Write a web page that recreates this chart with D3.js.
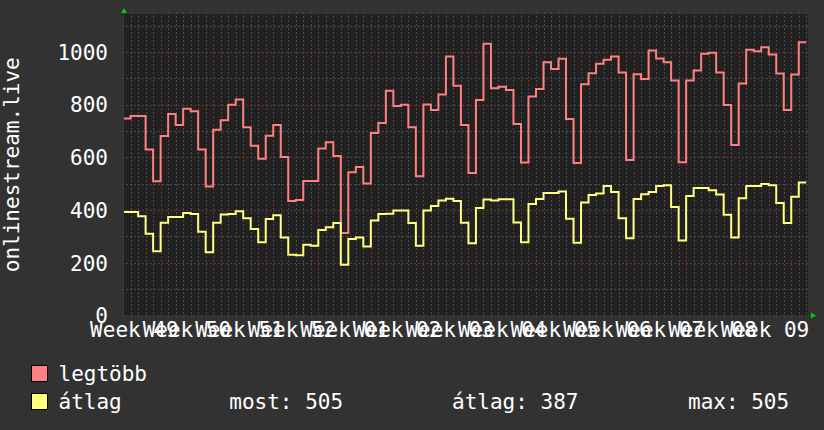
<!DOCTYPE html>
<html>
<head>
<meta charset="utf-8">
<script src="https://cdn.jsdelivr.net/npm/d3@7"></script>
<style>
  html, body { margin: 0; padding: 0; background: #323232; }
  svg { display: block; }
  text { font-family: "DejaVu Sans Mono", monospace; fill: #ffffff; }
</style>
</head>
<body>
<div id="chart"></div>
<script>
// ---- data (one value per day; first entry is the partial day at the left edge) ----
const legtobb = [748,757,757,630,510,681,765,723,785,775,630,490,705,741,800,820,715,644,595,682,
  723,602,435,438,511,511,634,658,605,313,544,564,501,693,731,853,795,800,715,529,
  801,780,839,983,872,723,541,818,1032,863,868,856,727,581,831,860,961,936,975,746,
  579,878,920,956,971,983,922,590,916,898,1006,976,961,892,582,892,930,994,997,922,
  799,647,881,1009,1003,1018,991,919,780,915,1037];
const atlag = [393,393,377,310,244,352,374,374,389,385,318,240,352,383,385,396,369,328,278,366,
  381,296,231,229,269,265,325,335,351,193,290,296,262,361,385,386,399,399,351,265,
  399,416,437,443,435,352,274,408,440,437,441,441,353,278,423,442,465,465,471,367,
  276,429,457,463,492,469,369,293,442,460,469,492,494,412,285,454,484,484,475,459,
  382,296,445,492,492,499,494,427,351,451,505];
const weekLabels = ["Week 49","Week 50","Week 51","Week 52","Week 01","Week 02","Week 03",
  "Week 04","Week 05","Week 06","Week 07","Week 08","Week 09"];
const yTicks = [0,200,400,600,800,1000];
const seriesNames = ["legtöbb","átlag"];
const statLabels = ["most: 505","átlag: 387","max: 505"];

// ---- layout ----
const W = 824, H = 430;
const plot = {left: 124, right: 808, top: 14, bottom: 315.5};
const colors = {red: "#ff8080", yellow: "#ffff80"};

const svg = d3.select("#chart").append("svg").attr("width", W).attr("height", H);
svg.append("rect").attr("width", W).attr("height", H).attr("fill", "#323232");

// x: days, day 0 = first full day boundary
const x = d3.scaleLinear().domain([-0.879, 90.232]).range([plot.left, plot.right]);
const y = d3.scaleLinear().domain([0, 1144.5]).range([plot.bottom, plot.top]);

svg.append("rect").attr("x", plot.left).attr("y", plot.top)
  .attr("width", plot.right - plot.left).attr("height", plot.bottom - plot.top)
  .attr("fill", "#212121");

const grid = svg.append("g");
// minor vertical (daily)
const days = d3.range(0, 91);
const weekDays = d3.range(0, 13).map(k => 4 + 7 * k);
grid.selectAll(".vmin").data(days.filter(d => !weekDays.includes(d))).join("line")
  .attr("x1", d => Math.round(x(d)) + 0.5).attr("x2", d => Math.round(x(d)) + 0.5)
  .attr("y1", plot.top - 2).attr("y2", plot.bottom + 2)
  .attr("stroke", "#4c4c4c").attr("stroke-dasharray", "2,2");
// minor horizontal (every 100)
const hMinor = d3.range(100, 1144, 200);
grid.selectAll(".hmin").data(hMinor).join("line")
  .attr("x1", plot.left - 2).attr("x2", plot.right + 2)
  .attr("y1", d => Math.round(y(d)) + 0.5).attr("y2", d => Math.round(y(d)) + 0.5)
  .attr("stroke", "#4c4c4c").attr("stroke-dasharray", "2,2");
// major vertical (weeks)
grid.selectAll(".vmaj").data(weekDays).join("line")
  .attr("x1", d => Math.round(x(d)) + 0.5).attr("x2", d => Math.round(x(d)) + 0.5)
  .attr("y1", plot.top - 2).attr("y2", plot.bottom + 2)
  .attr("stroke", "#6b3434").attr("stroke-dasharray", "2,2");
// major horizontal
grid.selectAll(".hmaj").data(yTicks.filter(v => v > 0)).join("line")
  .attr("x1", plot.left - 2).attr("x2", plot.right + 2)
  .attr("y1", d => Math.round(y(d)) + 0.5).attr("y2", d => Math.round(y(d)) + 0.5)
  .attr("stroke", "#6b3434").attr("stroke-dasharray", "2,2");

// axes lines
svg.append("line").attr("x1", plot.left - 2).attr("x2", plot.right + 4)
  .attr("y1", plot.bottom + 0.5).attr("y2", plot.bottom + 0.5).attr("stroke", "#3a3a3a");
svg.append("line").attr("x1", plot.left - 0.5).attr("x2", plot.left - 0.5)
  .attr("y1", plot.top - 4).attr("y2", plot.bottom + 2).attr("stroke", "#3a3a3a");

// arrows
svg.append("path").attr("d", `M${plot.left - 3},${plot.top - 1} L${plot.left + 3},${plot.top - 1} L${plot.left},${plot.top - 6} Z`)
  .attr("fill", "#00d000");
svg.append("path").attr("d", `M${plot.right + 3},${plot.bottom - 3} L${plot.right + 3},${plot.bottom + 3} L${plot.right + 8},${plot.bottom} Z`)
  .attr("fill", "#00d000");

// lines (step)
function stepPoints(vals) {
  const pts = vals.map((v, i) => [i === 0 ? -0.879 : i - 1, v]);
  pts.push([vals.length - 1, vals[vals.length - 1]]);
  return pts;
}
const line = d3.line().x(d => x(d[0])).y(d => y(d[1])).curve(d3.curveStepAfter);
svg.append("path").attr("d", line(stepPoints(legtobb))).attr("fill", "none")
  .attr("stroke", colors.red).attr("stroke-width", 2);
svg.append("path").attr("d", line(stepPoints(atlag))).attr("fill", "none")
  .attr("stroke", colors.yellow).attr("stroke-width", 2);

// y tick labels
svg.append("g").selectAll("text").data(yTicks).join("text")
  .attr("x", 108).attr("y", d => y(d) + 7.7).attr("text-anchor", "end")
  .attr("font-size", 21).text(d => d);

// x tick labels
svg.append("g").selectAll("text").data(weekLabels).join("text")
  .attr("x", (d, i) => x(0.5 + 7 * i)).attr("y", 337).attr("text-anchor", "middle")
  .attr("font-size", 21).text(d => d);

// y title
svg.append("text").attr("transform", `translate(18.5,${(plot.top + plot.bottom) / 2}) rotate(-90)`)
  .attr("text-anchor", "middle").attr("font-size", 21).text("onlinestream.live");

// legend
const lg = svg.append("g");
[colors.red, colors.yellow].forEach((c, i) => {
  lg.append("rect").attr("x", 31.5).attr("y", 365.5 + 28 * i).attr("width", 16).attr("height", 16)
    .attr("fill", c).attr("stroke", "#000").attr("stroke-width", 1);
  lg.append("text").attr("x", 58.5).attr("y", 380.7 + 28 * i).attr("font-size", 21).text(seriesNames[i]);
});
const statX = [229.3, 452, 688];
statLabels.forEach((s, i) => {
  lg.append("text").attr("x", statX[i]).attr("y", 408.7).attr("font-size", 21).text(s);
});
</script>
</body>
</html>
